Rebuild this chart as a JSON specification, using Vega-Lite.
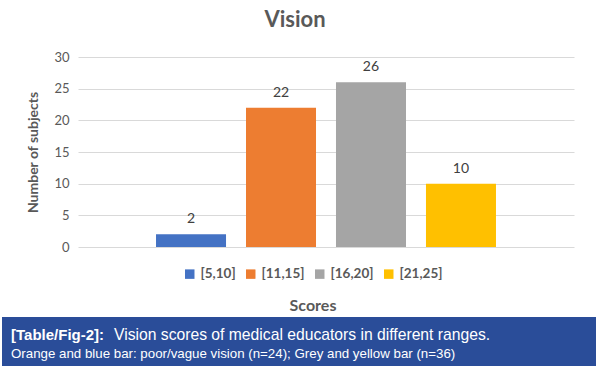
{
  "$schema": "https://vega.github.io/schema/vega-lite/v6.json",
  "background": "white",
  "padding": {"left": 2, "top": 9, "right": 0, "bottom": 0},
  "config": {"view": {"stroke": null}, "font": "Lato", "concat": {"spacing": 0}},
  "title": {
    "text": "Vision scores of medical educators in different ranges.",
    "orient": "bottom", "anchor": "start", "offset": -38, "dx": 112,
    "font": "Liberation Sans", "fontSize": 15.7, "fontWeight": "normal", "color": "white"
  },
  "spacing": 63,
  "vconcat": [
    {
      "spacing": 0,
      "hconcat": [
        {"width": 24, "height": 10, "data": {"values": []}, "mark": "text", "encoding": {}},
        {
          "width": 496,
          "height": 190,
          "title": {"text": "Vision", "fontSize": 22, "fontWeight": "bold", "color": "#595959", "offset": 19, "anchor": "middle", "dx": -31},
          "data": {"values": [
            {"range": "[5,10]", "count": 2},
            {"range": "[11,15]", "count": 22},
            {"range": "[16,20]", "count": 26},
            {"range": "[21,25]", "count": 10}
          ]},
          "encoding": {
            "x": {"field": "range", "type": "nominal", "sort": null,
                  "scale": {"paddingInner": 0.222, "paddingOuter": 0.867}, "axis": null},
            "y": {"field": "count", "type": "quantitative", "scale": {"domain": [0, 30]},
                  "axis": {"title": "Number of subjects", "values": [0, 5, 10, 15, 20, 25, 30],
                           "grid": true, "gridColor": "#d9d9d9", "domain": false, "ticks": false,
                           "labelColor": "#595959", "labelFontSize": 13, "labelPadding": 9,
                           "titleColor": "#595959", "titleFontSize": 14, "titleFontWeight": "bold", "titlePadding": 13}}
          },
          "layer": [
            {
              "mark": {"type": "bar"},
              "encoding": {
                "color": {"field": "range", "type": "nominal", "sort": null,
                  "scale": {"range": ["#4472c4", "#ed7d31", "#a5a5a5", "#ffc000"]},
                  "legend": {"title": "Scores", "orient": "none", "legendX": 181, "legendY": 210,
                    "direction": "horizontal", "titleOrient": "bottom", "titleAnchor": "middle",
                    "titleFontSize": 16, "titleFontWeight": "bold", "titleColor": "#595959", "titlePadding": 17,
                    "labelFontSize": 13.5, "labelFontWeight": "bold", "labelColor": "#595959",
                    "symbolType": "square", "symbolSize": 90, "symbolStrokeWidth": 0,
                    "columnPadding": 8, "labelOffset": 4}
                }
              }
            },
            {
              "mark": {"type": "text", "baseline": "bottom", "dy": -8, "fontSize": 14, "color": "#404040"},
              "encoding": {"text": {"field": "count", "type": "quantitative"}}
            }
          ]
        }
      ]
    },
    {
      "width": 594,
      "height": 49,
      "view": {"fill": "#2a4d99", "stroke": null},
      "title": {
        "text": "[Table/Fig-2]:",
        "subtitle": "Orange and blue bar: poor/vague vision (n=24); Grey and yellow bar (n=36)",
        "anchor": "start", "orient": "top", "offset": -43, "dx": 9,
        "font": "Liberation Sans", "fontSize": 15, "fontWeight": "bold", "color": "white",
        "subtitleFont": "Liberation Sans", "subtitleFontSize": 13.3, "subtitleColor": "white", "subtitlePadding": 4
      },
      "data": {"values": []},
      "mark": "text",
      "encoding": {}
    }
  ]
}
